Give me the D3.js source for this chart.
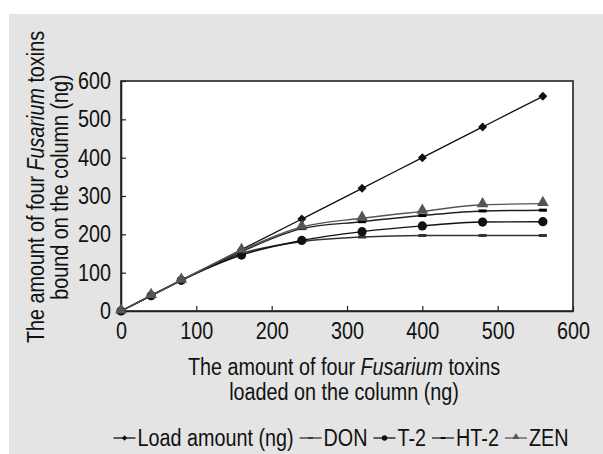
<!doctype html>
<html>
<head>
<meta charset="utf-8">
<script src="https://cdnjs.cloudflare.com/ajax/libs/d3/7.8.5/d3.min.js"></script>
<style>
  body { margin: 0; background: #fff; }
  svg text { font-family: "Liberation Sans", Arial, sans-serif; fill: #111; }
</style>
</head>
<body>
<svg id="chart" width="603" height="454"></svg>
<script>
// loaded amounts (x) and bound amounts for each series
var loaded = [0, 40, 80, 160, 240, 320, 400, 480, 560];
var loadAmount = [0, 40, 80, 160, 240, 320, 400, 480, 560];
var don  = [0, 40, 80, 150, 181, 193, 197, 197, 197];
var t2   = [0, 40, 80, 146, 184, 207, 222, 232, 233];
var ht2  = [0, 40, 80, 155, 215, 233, 249, 261, 263];
var zen  = [0, 40, 80, 158, 219, 242, 260, 277, 280];
var xTicks = [0, 100, 200, 300, 400, 500, 600];
var yTicks = [0, 100, 200, 300, 400, 500, 600];

var series = [
  { name: "Load amount (ng)", values: loadAmount, color: "#111", marker: "diamond" },
  { name: "DON", values: don, color: "#333", marker: "dash" },
  { name: "T-2", values: t2, color: "#111", marker: "circle" },
  { name: "HT-2", values: ht2, color: "#222", marker: "smalldash" },
  { name: "ZEN", values: zen, color: "#555", marker: "triangle" }
];

var SX = 0.86; // narrow the sans font horizontally
var fs = "23px";
var svg = d3.select("#chart");
svg.append("rect").attr("x", 9).attr("y", 14).attr("width", 594).attr("height", 440).attr("fill", "#e3e4e3");

var pLeft = 121, pRight = 573, pTop = 81, pBottom = 311;
var x = d3.scaleLinear().domain([0, 600]).range([pLeft, pRight]);
var y = d3.scaleLinear().domain([0, 600]).range([pBottom, pTop]);

svg.append("rect").attr("x", pLeft).attr("y", pTop).attr("width", pRight - pLeft).attr("height", pBottom - pTop)
  .attr("fill", "#fff").attr("stroke", "#222").attr("stroke-width", 1.6);

// axes, ticks inside
var xAxis = svg.append("g").attr("transform", "translate(0," + pBottom + ")")
  .call(d3.axisBottom(x).tickValues(xTicks).tickSizeInner(-5).tickSizeOuter(0).tickPadding(12));
var yAxis = svg.append("g").attr("transform", "translate(" + pLeft + ",0)")
  .call(d3.axisLeft(y).tickValues(yTicks).tickSizeInner(-5).tickSizeOuter(0).tickPadding(11));
[xAxis, yAxis].forEach(function(a) {
  a.attr("font-family", null).attr("font-size", null);
  a.select(".domain").attr("stroke", "#222").attr("stroke-width", 1.6);
  a.selectAll(".tick line").attr("stroke", "#222").attr("stroke-width", 1.2);
  a.selectAll("text").style("font-size", fs).attr("fill", "#111").attr("transform", "scale(" + SX + ",1)");
});
yAxis.selectAll("text").attr("x", -10 / SX);

var line = d3.line().x(function(d, i) { return x(loaded[i]); }).y(function(d) { return y(d); }).curve(d3.curveMonotoneX);

function drawMarker(g, type, cx, cy, color, s) {
  s = s || 1;
  if (type === "diamond") {
    g.append("path").attr("d", d3.symbol().type(d3.symbolSquare).size(40 * s * s)).attr("transform", "translate(" + cx + "," + cy + ") rotate(45)").attr("fill", color);
  } else if (type === "circle") {
    g.append("circle").attr("cx", cx).attr("cy", cy).attr("r", 4.6 * s).attr("fill", color);
  } else if (type === "triangle") {
    g.append("path").attr("d", d3.symbol().type(d3.symbolTriangle).size(60 * s * s)).attr("transform", "translate(" + cx + "," + (cy - 1) + ")").attr("fill", color);
  } else if (type === "dash") {
    g.append("rect").attr("x", cx - 4 * s).attr("y", cy - 1.5 * s).attr("width", 8 * s).attr("height", 3 * s).attr("fill", color);
  } else if (type === "smalldash") {
    g.append("rect").attr("x", cx - 4 * s).attr("y", cy - 1.5 * s).attr("width", 8 * s).attr("height", 3 * s).attr("fill", "#000");
  }
}

var plot = svg.append("g");
series.forEach(function(s) {
  plot.append("path").attr("d", line(s.values)).attr("fill", "none").attr("stroke", s.color).attr("stroke-width", 1.4);
  s.values.forEach(function(v, i) { drawMarker(plot, s.marker, x(loaded[i]), y(v), s.color); });
});

// axis titles
function titleLine(tx, ty, rot, parts) {
  var t = svg.append("text").attr("text-anchor", "middle").style("font-size", fs)
    .attr("transform", "translate(" + tx + "," + ty + ")" + (rot ? " rotate(-90)" : "") + " scale(" + SX + ",1)");
  parts.forEach(function(p) {
    t.append("tspan").style("font-style", p[1] ? "italic" : null).text(p[0]);
  });
}
titleLine(344, 375, false, [["The amount of four "], ["Fusarium", true], [" toxins"]]);
titleLine(344, 400, false, [["loaded on the column (ng)"]]);
titleLine(44, 187, true, [["The amount of four "], ["Fusarium", true], [" toxins"]]);
titleLine(68, 187, true, [["bound on the column (ng)"]]);

// legend
var legend = svg.append("g");
var lx = 0;
series.forEach(function(s) {
  var g = legend.append("g").attr("transform", "translate(" + lx + ",0)");
  g.append("line").attr("x1", 0).attr("x2", 22).attr("y1", 0).attr("y2", 0).attr("stroke", s.color).attr("stroke-width", 1.3);
  drawMarker(g, s.marker, 11, 0, s.color, 0.6);
  var t = g.append("text").attr("transform", "translate(24,8) scale(" + SX + ",1)").style("font-size", fs).text(s.name);
  lx += 24 + t.node().getComputedTextLength() * SX + 6;
});
legend.attr("transform", "translate(" + (341 - (lx - 6) / 2) + ",438)");
</script>
</body>
</html>
